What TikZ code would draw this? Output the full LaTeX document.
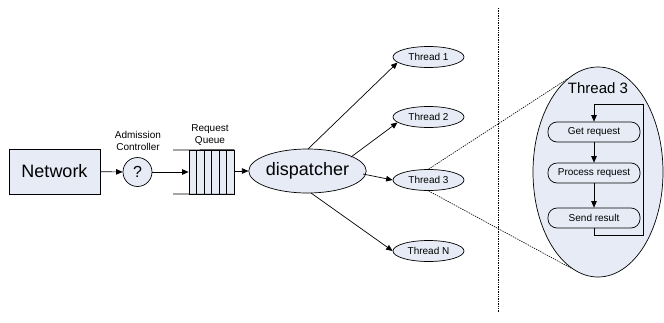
\documentclass[tikz,border=0pt]{standalone}
\usepackage{fontspec}
\setmainfont{Liberation Sans}
\usetikzlibrary{shapes.geometric,arrows.meta}
\definecolor{lb}{RGB}{230,235,246}
\tikzset{
  base/.style={draw=black,line width=0.7pt,fill=lb,inner sep=0pt},
  ell/.style={base,ellipse},
  thr/.style={ell,minimum width=71pt,minimum height=21pt,font=\fontsize{10}{12}\selectfont},
  stepbox/.style={base,rounded corners=9pt,minimum width=92pt,minimum height=20pt,font=\fontsize{10}{12}\selectfont},
  arr/.style={line width=0.7pt,-{Triangle[length=6.5pt,width=5.5pt]}},
  dots/.style={line width=0.6pt,dash pattern=on 1.4pt off 1pt},
  lbl/.style={align=center,font=\fontsize{10}{12}\selectfont,inner sep=0pt}
}
\begin{document}
\begin{tikzpicture}[x=1pt,y=-1pt]
\useasboundingbox (0,0) rectangle (664,322);
% divider
\draw[dots] (498,8) -- (498,312);
% network
\node[base,rectangle,minimum width=91pt,minimum height=45pt,font=\fontsize{18}{20}\selectfont] (net) at (54.5,171.5) {Network};
% admission controller
\node[ell,circle,minimum size=29pt,font=\fontsize{16}{18}\selectfont] (adm) at (137.5,172) {?};
\node[lbl] (admlbl) at (138,141) {Admission\\Controller};
% queue
\node[base,rectangle,minimum width=45pt,minimum height=44pt] (q) at (211.5,172) {};
\foreach \x in {196.5,204,211.5,219,226.5}
  \draw[line width=0.7pt] (\x,150) -- (\x,194);
\draw[line width=0.7pt] (173,150) -- (q.north east);
\draw[line width=0.7pt] (173,194) -- (q.south east);
\node[lbl] (qlbl) at (210,135) {Request\\Queue};
% dispatcher
\node[ell,minimum width=111pt,minimum height=44pt,font=\fontsize{18}{20}\selectfont] (disp) at (307.5,171) {dispatcher};
% threads
\node[thr] (t1) at (428.5,57) {Thread 1};
\node[thr] (t2) at (428.5,117) {Thread 2};
\node[thr] (t3) at (428.5,180) {Thread 3};
\node[thr] (tn) at (428.5,251) {Thread N};
% connectors
\draw[arr] (net) -- (adm);
\draw[arr] (adm) -- (q.west |- adm);
\draw[arr] (q.east |- disp) -- (disp);
\coordinate (d1) at (308,149);
\coordinate (d2) at (351,157);
\coordinate (d3) at (363,174);
\coordinate (dn) at (311,193);
\draw[arr] (d1) -- (t1.190);
\draw[arr] (d2) -- (t2.190);
\draw[arr] (d3) -- (t3.west);
\draw[arr] (dn) -- (tn.west);
% zoom ellipse
\node[ell,minimum width=130pt,minimum height=210pt] (big) at (598,172) {};
\node[font=\fontsize{15}{17}\selectfont,inner sep=0pt] (bigl) at (598,88) {Thread 3};
\draw[dots] (t3.north) -- (big.108);
\draw[dots] (t3.south) -- (big.255);
\node[stepbox] (s1) at (594,132) {Get request};
\node[stepbox] (s2) at (594,173) {Process request};
\node[stepbox] (s3) at (594,218) {Send result};
\draw[arr] (s1) -- (s2);
\draw[arr] (s2) -- (s3);
\draw[arr] (s3.south) -- ++(0,7) -| (643,104) -| (s1.north);
\end{tikzpicture}
\end{document}
